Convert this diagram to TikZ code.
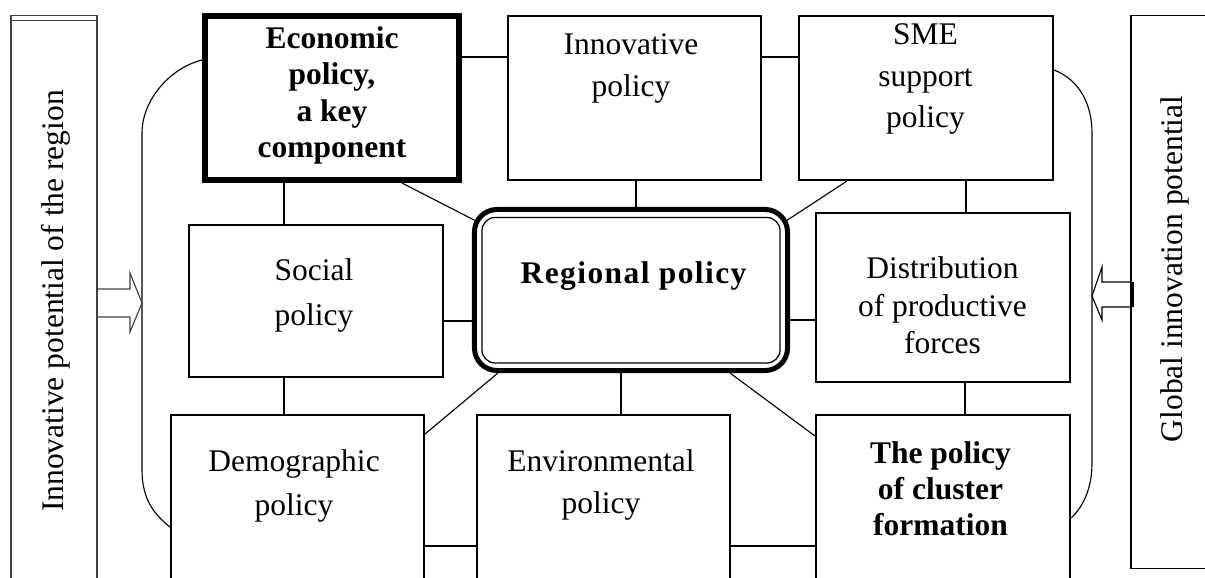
\documentclass[tikz,border=0pt]{standalone}
\usepackage{fontspec}
\setmainfont{Liberation Serif}
\usetikzlibrary{calc}
\begin{document}
\begin{tikzpicture}[x=0.025cm, y=-0.025cm,
  box/.style={draw, line width=1.4pt, inner sep=0pt},
  conn/.style={line width=0.8pt},
  txt/.style={font=\fontsize{22.4}{#1}\selectfont, align=center, anchor=north, inner sep=0pt},
  btxt/.style={font=\fontsize{22.4}{#1}\selectfont\bfseries, align=center, anchor=north, inner sep=0pt},
  sidebox/.style={draw=black!75, line width=0.8pt, inner sep=0pt},
  vtxt/.style={rotate=90, anchor=base, inner sep=0pt, font=\fontsize{22.4}{27}\selectfont}
]
\useasboundingbox (0,0) rectangle (1205,578);
\clip (0,0) rectangle (1205,578);

% side rectangles
\node[sidebox, minimum width=2.15cm, minimum height=15.6cm] (lrect) at (54,328) {};
\draw[black!75, line width=0.8pt] (lrect.north west) ++(0,5) coordinate (ltop) -- (ltop -| lrect.east);
\node[draw, line width=0.8pt, inner sep=0pt, minimum width=2.1cm, minimum height=13.8cm] (rrect) at (1173,292) {};
\node[vtxt] (ltxt) at (63,301) {Innovative potential of the region};
\node[vtxt] (rtxt) at (1182,269) {Global innovation potential};

% boxes
\node[box, line width=4.3pt, minimum width=6.35cm, minimum height=4.1cm] (econ) at (332,98) {};
\node[box, minimum width=6.325cm, minimum height=4.1cm] (innov) at (634.5,98) {};
\node[box, minimum width=6.35cm, minimum height=4.1cm] (sme) at (926,98) {};
\node[box, minimum width=6.35cm, minimum height=3.8cm] (soc) at (316,301) {};
\node[box, minimum width=6.35cm, minimum height=4.225cm] (dist) at (943,297.5) {};
\node[box, minimum width=6.325cm, minimum height=5.625cm] (demo) at (297.5,527.5) {};
\node[box, minimum width=6.325cm, minimum height=5.625cm] (env) at (603.5,527.5) {};
\node[box, minimum width=6.35cm, minimum height=5.625cm] (clu) at (943,527.5) {};
\node[draw, line width=3.56pt, rounded corners=0.5625cm, inner sep=0pt,
      minimum width=7.825cm, minimum height=4.025cm] (reg) at (631,290) {};
\draw[line width=0.9pt, rounded corners=0.33cm]
  ($(reg.north west)+(10,10.5)$) rectangle ($(reg.south east)+(-10,-10)$);

% texts
\node[btxt=25.8pt] (econT) at (332,26.5) {Economic\\policy,\\a key\\component};
\node[txt=29.9pt] (innovT) at (631,33.5) {Innovative\\policy};
\node[txt=29.5pt] (smeT) at (925.5,23.5) {SME\\support\\policy};
\node[txt=32pt] (socT) at (314,258.5) {Social\\policy};
\node[txt=26.7pt] (distT) at (942.5,256.5) {Distribution\\of productive\\forces};
\node[btxt=27pt] (regT) at (633.5,261.5) {\addfontfeature{LetterSpace=4.5}Regional policy};
\node[txt=31.3pt] (demoT) at (294,449.5) {Demographic\\policy};
\node[txt=29.9pt] (envT) at (601,449.5) {Environmental\\policy};
\node[btxt=25.6pt] (cluT) at (940.5,441.5) {The policy\\of cluster\\formation};

% connectors
\draw[conn] (econ.east |- 0,57) -- (innov.west |- 0,57);
\draw[conn] (innov.east |- 0,57) -- (sme.west |- 0,57);
\draw[conn] (econ.south -| 284,0) -- (soc.north -| 284,0);
\draw[conn] (soc.south -| 284,0) -- (demo.north -| 284,0);
\draw[conn] (econ.south -| 402,0) -- ($(reg.north west)+(4,14)$);
\draw[conn] (innov.south -| 636,0) -- (reg.north -| 636,0);
\draw[conn] (sme.south -| 847,0) -- ($(reg.north east)+(-4,14)$);
\draw[conn] (sme.south -| 966,0) -- (dist.north -| 966,0);
\draw[conn] (soc.east |- 0,321) -- (reg.west |- 0,321);
\draw[conn] (reg.east |- 0,320) -- (dist.west |- 0,320);
\draw[conn] (dist.south -| 965,0) -- (clu.north -| 965,0);
\draw[conn] ($(reg.south west)+(26,0)$) -- ($(demo.north east)+(0,20)$);
\draw[conn] (reg.south -| 621,0) -- (env.north -| 621,0);
\draw[conn] ($(reg.south east)+(-60,0)$) -- ($(clu.north west)+(0,22)$);
\draw[conn] (demo.east |- 0,546) -- (env.west |- 0,546);
\draw[conn] (env.east |- 0,546) -- (clu.west |- 0,546);

% enclosing curves
\draw[conn] (econ.west |- 0,60) .. controls (170,68) and (142,100) .. (142,133)
  -- (142,470) .. controls (142,500) and (155,515) .. (demo.west |- 0,527);
\draw[conn] (sme.east |- 0,70) .. controls (1080,80) and (1092,105) .. (1092,133)
  -- (1092,463) .. controls (1092,490) and (1082,508) .. (clu.east |- 0,518);

% block arrows
\draw[black!75, line width=0.8pt] (lrect.east |- 0,289) -- (130,289) -- (130,273) -- (142,303)
  -- (130,332) -- (130,317) -- (lrect.east |- 0,317);
\draw[line width=0.8pt] (rrect.west |- 0,282) -- (1102,282) -- (1102,267) -- (1092,296)
  -- (1102,320) -- (1102,307) -- (rrect.west |- 0,307);
\draw[line width=1pt] (1133,282) -- (1133,307);
\end{tikzpicture}
\end{document}
